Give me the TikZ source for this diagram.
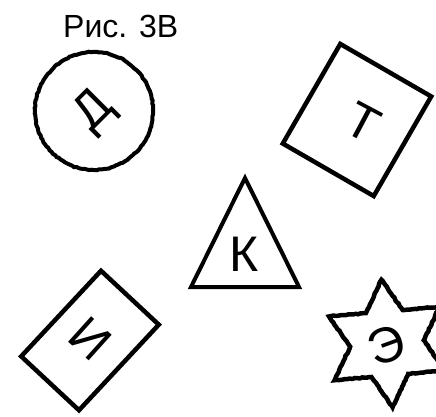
\documentclass[tikz,border=0pt]{standalone}
\usepackage{fontspec}
\setmainfont{Liberation Sans}
\usetikzlibrary{shapes.geometric,decorations.pathmorphing}

\begin{document}
\begin{tikzpicture}[x=1pt,y=1pt,
    outline/.style={draw=black,line width=4.5pt,line join=miter},
    rough/.style={decorate,decoration={random steps,segment length=2.5pt,amplitude=0.5pt}},
    glyph/.style={inner sep=0pt,font=\fontsize{50}{50}\selectfont}]
  \useasboundingbox (0,0) rectangle (436,416);
  \clip (0,0) rectangle (436,416);
  % caption
  \node[inner sep=0pt,anchor=west,font=\fontsize{32}{32}\selectfont] (title) at (63,390) {Рис. 3В};
  % circle
  \draw[outline,line width=4pt,rough] (94,305) circle (59);
  \node[glyph,rotate=45] (letD) at (95,304) {Д};
  % square
  \node[outline,rotate=-30,minimum width=105pt,minimum height=115pt] (sqT) at (357,296) {};
  \node[glyph,rotate=-28] (letT) at (363,294) {Т};
  % triangle
  \coordinate (triA) at (191,129);
  \coordinate (triB) at (299,129);
  \coordinate (triC) at (245,238);
  \draw[outline,line width=4pt] (triA) -- (triB) -- (triC) -- cycle;
  \node[glyph] (letK) at (244,162) {К};
  % rectangle
  \node[outline,rotate=-43,minimum width=79pt,minimum height=117pt] (rectI) at (90,75.5) {};
  \node[glyph,rotate=-42] (letI) at (90,77) {И};
  % star
  \node[outline,rough,star,star points=6,star point ratio=1.732,minimum size=128pt,
        shape border rotate=5] (starE) at (387,72.5) {};
  \node[glyph,rotate=20] (letE) at (386,71) {Э};
\end{tikzpicture}
\end{document}
